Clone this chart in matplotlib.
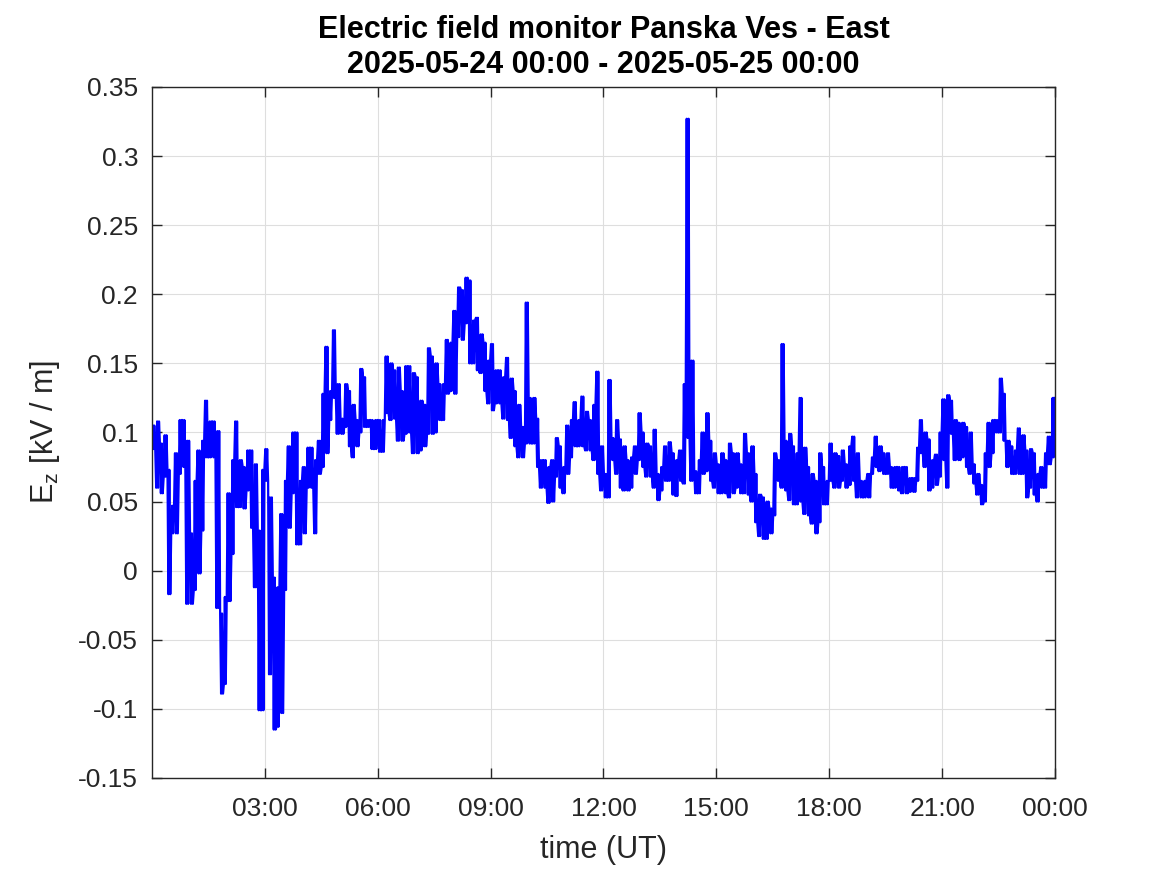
import numpy as np
import matplotlib
matplotlib.use("Agg")
import matplotlib.pyplot as plt

# Upper / lower envelope of Ez [kV/m] in 6-minute bins (0.1 h), 00:00 -> 24:00 UT
ez_high = [
    0.105, 0.108, 0.092, 0.098, 0.073, 0.047, 0.085, 0.109, 0.109, 0.094,
    0.027, 0.065, 0.087, 0.094, 0.123, 0.108, 0.108, 0.101, -0.031, -0.019,
    0.056, 0.080, 0.108, 0.080, 0.075, 0.087, 0.087, 0.077, 0.029, 0.073,
    0.088, 0.053, -0.005, -0.012, 0.041, 0.065, 0.090, 0.100, 0.100, 0.065,
    0.075, 0.089, 0.089, 0.080, 0.094, 0.128, 0.162, 0.130, 0.174, 0.135,
    0.110, 0.135, 0.130, 0.120, 0.109, 0.146, 0.140, 0.109, 0.109, 0.109,
    0.109, 0.109, 0.155, 0.150, 0.145, 0.147, 0.130, 0.148, 0.148, 0.143,
    0.140, 0.123, 0.120, 0.161, 0.155, 0.150, 0.135, 0.135, 0.167, 0.165,
    0.188, 0.205, 0.203, 0.212, 0.210, 0.181, 0.183, 0.171, 0.165, 0.152,
    0.164, 0.145, 0.145, 0.140, 0.154, 0.139, 0.130, 0.120, 0.104, 0.194,
    0.125, 0.125, 0.110, 0.080, 0.080, 0.075, 0.080, 0.096, 0.090, 0.075,
    0.105, 0.109, 0.122, 0.109, 0.126, 0.115, 0.109, 0.120, 0.144, 0.090,
    0.070, 0.138, 0.096, 0.109, 0.095, 0.090, 0.080, 0.082, 0.090, 0.114,
    0.100, 0.092, 0.090, 0.102, 0.070, 0.075, 0.090, 0.093, 0.085, 0.080,
    0.087, 0.135, 0.327, 0.152, 0.072, 0.080, 0.100, 0.114, 0.094, 0.085,
    0.077, 0.085, 0.080, 0.092, 0.085, 0.085, 0.077, 0.099, 0.085, 0.090,
    0.070, 0.055, 0.053, 0.050, 0.045, 0.085, 0.080, 0.164, 0.094, 0.099,
    0.090, 0.085, 0.125, 0.089, 0.075, 0.070, 0.065, 0.085, 0.075, 0.065,
    0.092, 0.085, 0.083, 0.087, 0.077, 0.090, 0.097, 0.085, 0.065, 0.065,
    0.070, 0.082, 0.097, 0.090, 0.085, 0.085, 0.075, 0.075, 0.075, 0.075,
    0.075, 0.067, 0.067, 0.089, 0.109, 0.100, 0.095, 0.080, 0.084, 0.100,
    0.124, 0.127, 0.123, 0.109, 0.107, 0.107, 0.104, 0.100, 0.077, 0.070,
    0.062, 0.085, 0.107, 0.109, 0.109, 0.139, 0.128, 0.094, 0.090, 0.087,
    0.103, 0.098, 0.087, 0.088, 0.085, 0.070, 0.075, 0.085, 0.097, 0.125,
]
ez_low = [
    0.088, 0.060, 0.056, 0.068, -0.017, 0.027, 0.027, 0.070, 0.075, -0.024,
    -0.024, -0.014, -0.002, 0.029, 0.082, 0.082, 0.082, -0.027, -0.089, -0.082,
    -0.022, 0.012, 0.046, 0.046, 0.045, 0.058, 0.031, -0.012, -0.101, -0.101,
    0.065, -0.075, -0.115, -0.113, -0.103, -0.014, 0.031, 0.056, 0.019, 0.019,
    0.027, 0.060, 0.060, 0.027, 0.070, 0.075, 0.085, 0.109, 0.125, 0.099,
    0.099, 0.104, 0.090, 0.082, 0.090, 0.100, 0.104, 0.104, 0.088, 0.088,
    0.086, 0.086, 0.114, 0.109, 0.110, 0.094, 0.094, 0.099, 0.100, 0.085,
    0.085, 0.087, 0.090, 0.099, 0.099, 0.100, 0.109, 0.109, 0.128, 0.130,
    0.128, 0.169, 0.167, 0.179, 0.150, 0.150, 0.145, 0.143, 0.130, 0.121,
    0.116, 0.121, 0.121, 0.110, 0.109, 0.096, 0.090, 0.082, 0.082, 0.092,
    0.092, 0.092, 0.075, 0.060, 0.060, 0.049, 0.050, 0.068, 0.060, 0.056,
    0.070, 0.082, 0.090, 0.090, 0.090, 0.087, 0.087, 0.080, 0.070, 0.058,
    0.053, 0.053, 0.080, 0.070, 0.060, 0.058, 0.058, 0.060, 0.070, 0.080,
    0.075, 0.068, 0.068, 0.060, 0.051, 0.058, 0.065, 0.065, 0.055, 0.054,
    0.065, 0.063, 0.096, 0.065, 0.056, 0.056, 0.070, 0.072, 0.065, 0.060,
    0.056, 0.056, 0.056, 0.053, 0.056, 0.060, 0.056, 0.056, 0.055, 0.050,
    0.035, 0.025, 0.023, 0.023, 0.027, 0.040, 0.065, 0.060, 0.058, 0.051,
    0.048, 0.048, 0.050, 0.041, 0.040, 0.034, 0.027, 0.035, 0.048, 0.048,
    0.065, 0.060, 0.060, 0.065, 0.060, 0.062, 0.065, 0.053, 0.053, 0.053,
    0.053, 0.070, 0.075, 0.072, 0.070, 0.070, 0.060, 0.060, 0.058, 0.056,
    0.056, 0.057, 0.057, 0.065, 0.085, 0.075, 0.058, 0.060, 0.062, 0.068,
    0.080, 0.060, 0.099, 0.080, 0.080, 0.082, 0.075, 0.070, 0.063, 0.055,
    0.048, 0.050, 0.075, 0.085, 0.100, 0.100, 0.094, 0.075, 0.070, 0.070,
    0.070, 0.070, 0.053, 0.060, 0.055, 0.050, 0.060, 0.060, 0.077, 0.082,
]
bin_hours = 0.1
xtick_hours = [3, 6, 9, 12, 15, 18, 21, 24]
xtick_labels = ["03:00", "06:00", "09:00", "12:00", "15:00", "18:00", "21:00", "00:00"]
ytick_values = [-0.15, -0.1, -0.05, 0, 0.05, 0.1, 0.15, 0.2, 0.25, 0.3, 0.35]
ytick_labels = ["-0.15", "-0.1", "-0.05", "0", "0.05", "0.1", "0.15", "0.2", "0.25", "0.3", "0.35"]

# Build the dense trace: within each bin the signal swings between its high and low values
t, v = [], []
for k, (hi, lo) in enumerate(zip(ez_high, ez_low)):
    t0 = k * bin_hours
    seq = (hi, lo, hi, lo) if k % 2 == 0 else (lo, hi, lo, hi)
    for j, val in enumerate(seq):
        t.append(t0 + (j + 0.5) / len(seq) * bin_hours)
        v.append(val)
t = np.array(t); v = np.array(v)

plt.rcParams['font.family'] = ['Liberation Sans', 'DejaVu Sans']
axc = (0.15, 0.15, 0.15)

fig = plt.figure(figsize=(11.67, 8.75), dpi=100)
ax = fig.add_axes([0.1302, 0.1109, 0.7738, 0.7897])
ax.plot(t, v, color=(0, 0, 1), linewidth=1.6)

ax.set_xlim(0, 24)
ax.set_ylim(-0.15, 0.35)
ax.set_xticks(xtick_hours)
ax.set_xticklabels(xtick_labels)
ax.set_yticks(ytick_values)
ax.set_yticklabels(ytick_labels)
ax.tick_params(direction='in', length=7, width=1, colors=axc, labelsize=19,
               top=True, right=True, pad=10)
ax.tick_params(axis='x', pad=14)
for s in ax.spines.values():
    s.set_color(axc)
    s.set_linewidth(1)
ax.grid(True, color=(0.87, 0.87, 0.87), linewidth=0.8)
ax.set_axisbelow(True)

ax.set_xlabel("time (UT)", fontsize=22, color=axc, labelpad=10)
ax.set_ylabel(r"E$_\mathregular{z}$ [kV / m]", fontsize=22, color=axc, labelpad=12)
ax.set_title("Electric field monitor Panska Ves - East\n2025-05-24 00:00 - 2025-05-25 00:00",
             fontsize=22, fontweight='bold', color='black', pad=10, linespacing=1.2)

fig.savefig("out.png", dpi=100)
